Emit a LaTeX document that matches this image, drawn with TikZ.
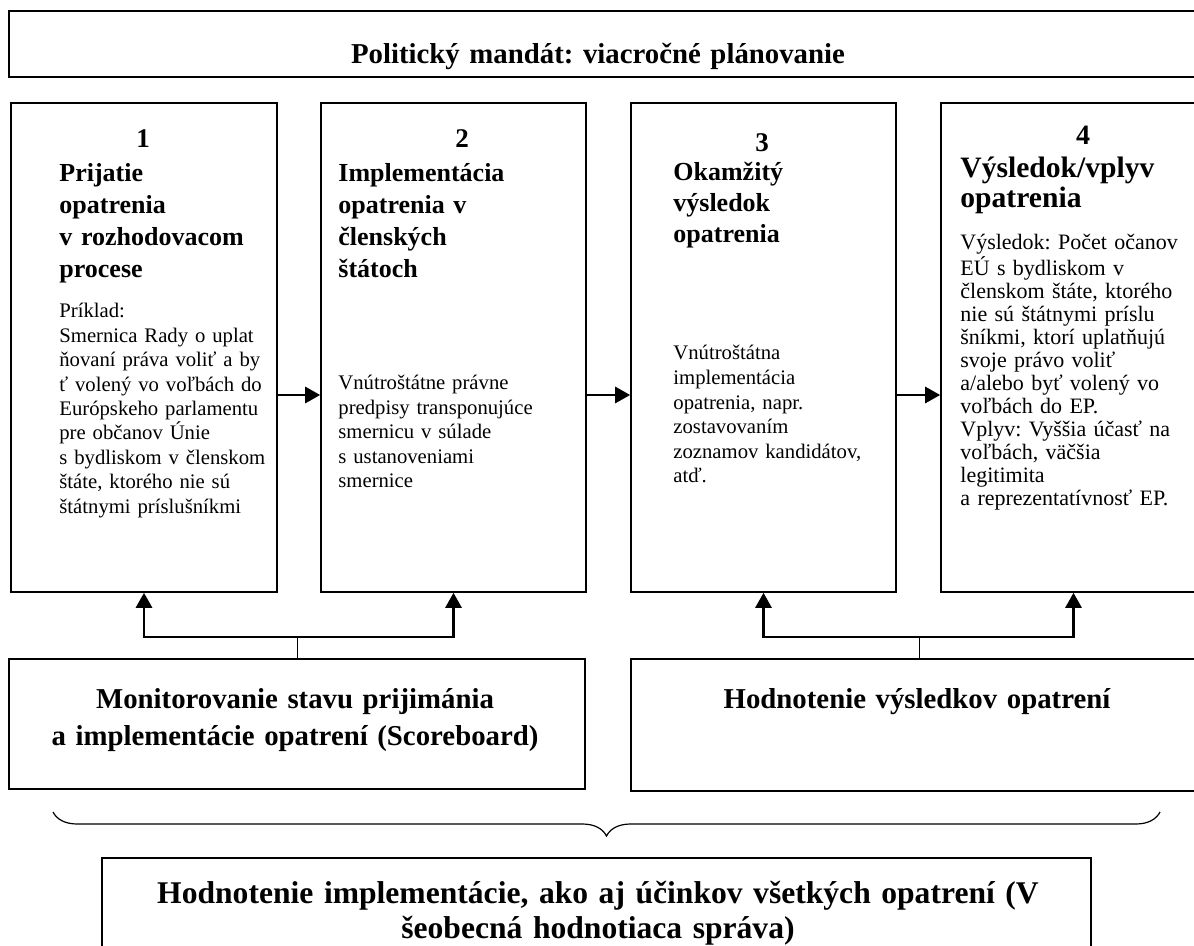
\documentclass[tikz,border=0pt]{standalone}
\usepackage{fontspec}
\setmainfont{Liberation Serif}
\frenchspacing
\usetikzlibrary{arrows.meta,decorations.pathreplacing,positioning}

\begin{document}
\begin{tikzpicture}[x=0.5pt,y=-0.5pt,
    frame/.style={draw,line width=0.8pt,inner sep=0pt},
    flow/.style={line width=1.4pt,-{Triangle[length=7.5pt,width=8pt]}},
    link/.style={line width=0.5pt},
    num/.style={font=\fontsize{13.5}{16}\selectfont\bfseries,anchor=base,inner sep=0pt},
    head/.style={font=\fontsize{13}{16}\selectfont\bfseries,text width=125pt,align=left,anchor=base west,inner sep=0pt},
    body/.style={font=\fontsize{10.35}{12.2}\selectfont,text width=125pt,align=left,anchor=base west,inner sep=0pt},
    big/.style={font=\fontsize{14.4}{18.5}\selectfont\bfseries,text width=300pt,align=center,anchor=base,inner sep=0pt}]

    \useasboundingbox (0,0) rectangle (1194,946);
    \clip (0,0) rectangle (1194,946);

    % Mandate
    \node[frame,minimum width=599pt,minimum height=33pt] (mandate) at (608,44) {};
    \node[big] (mandtext) at (598,64) {Politický mandát: viacročné plánovanie};

    % Stage boxes
    \node[frame,minimum width=133pt,minimum height=244.5pt] (s1) at (144,347.5) {};
    \node[frame,minimum width=132.5pt,minimum height=244.5pt] (s2) at (453.5,347.5) {};
    \node[frame,minimum width=132.5pt,minimum height=244.5pt] (s3) at (763.5,347.5) {};
    \node[frame,minimum width=132.5pt,minimum height=244.5pt] (s4) at (1073.5,347.5) {};

    % Stage 1
    \node[num] (n1) at (143,148) {1};
    \node[head] (h1) at (59,182) {Prijatie\\ opatrenia\\ v rozhodovacom\\ procese};
    \node[body] (b1) at (59,318) {Príklad:\\ Smernica Rady o uplat\\ ňovaní práva voliť a by\\ ť volený vo voľbách do\\ Európskeho parlamentu\\ pre občanov Únie\\ s bydliskom v členskom\\ štáte, ktorého nie sú\\ štátnymi príslušníkmi};

    % Stage 2
    \node[num] (n2) at (462,148) {2};
    \node[head] (h2) at (338,182) {Implementácia\\ opatrenia v\\ členských\\ štátoch};
    \node[body] (b2) at (338,390) {Vnútroštátne právne\\ predpisy transponujúce\\ smernicu v súlade\\ s ustanoveniami\\ smernice};

    % Stage 3
    \node[num] (n3) at (762,152) {3};
    \node[head,font=\fontsize{13}{15.5}\selectfont\bfseries] (h3) at (673,181) {Okamžitý\\ výsledok\\ opatrenia};
    \node[body,font=\fontsize{10.35}{12.3}\selectfont] (b3) at (673,360) {Vnútroštátna\\ implementácia\\ opatrenia, napr.\\ zostavovaním\\ zoznamov kandidátov,\\ atď.};

    % Stage 4
    \node[num,font=\fontsize{14}{16}\selectfont\bfseries] (n4) at (1083,145) {4};
    \node[head,font=\fontsize{14.8}{15}\selectfont\bfseries] (h4) at (960,178) {Výsledok/vplyv\\ opatrenia};
    \node[body,font=\fontsize{11}{11.5}\selectfont] (b4) at (960,250) {Výsledok: Počet očanov\\ EÚ s bydliskom v\\ členskom štáte, ktorého\\ nie sú štátnymi príslu\\ šníkmi, ktorí uplatňujú\\ svoje právo voliť\\ a/alebo byť volený vo\\ voľbách do EP.\\ Vplyv: Vyššia účasť na\\ voľbách, väčšia\\ legitimita\\ a reprezentatívnosť EP.};

    % Arrows between stages
    \coordinate (row) at (0,395);
    \draw[flow] (s1.east |- row) -- (s2.west |- row);
    \draw[flow] (s2.east |- row) -- (s3.west |- row);
    \draw[flow] (s3.east |- row) -- (s4.west |- row);

    % Monitoring and evaluation
    \node[frame,minimum width=288pt,minimum height=65pt] (mon) at (297,724) {};
    \node[big] (montext) at (295,708) {Monitorovanie stavu prijimánia\\ a implementácie opatrení (Scoreboard)};
    \node[frame,minimum width=288pt,minimum height=66pt] (eval) at (919,725) {};
    \node[big] (evaltext) at (917,708) {Hodnotenie výsledkov opatrení};

    \coordinate (bus) at (0,637);
    \draw[link] (mon.north) -- (mon.north |- bus);
    \draw[flow] (mon.north |- bus) -| (s1.south);
    \draw[flow] (mon.north |- bus) -| (s2.south);
    \draw[link] (eval.north) -- (eval.north |- bus);
    \draw[flow] (eval.north |- bus) -| (s3.south);
    \draw[flow] (eval.north |- bus) -| (s4.south);

    % Brace
    \coordinate (braceL) at (53,812);
    \coordinate (braceR) at (1160,812);
    \draw[line width=0.6pt,decorate,decoration={brace,mirror,amplitude=12pt}] (braceL) -- (braceR);

    % Overall report
    \node[frame,minimum width=494.5pt,minimum height=72pt] (summ) at (596.5,930) {};
    \node[big,font=\fontsize{15.8}{17.75}\selectfont\bfseries,text width=480pt] (summtext) at (598,903) {Hodnotenie implementácie, ako aj účinkov všetkých opatrení (V\\ šeobecná hodnotiaca správa)};

\end{tikzpicture}
\end{document}
